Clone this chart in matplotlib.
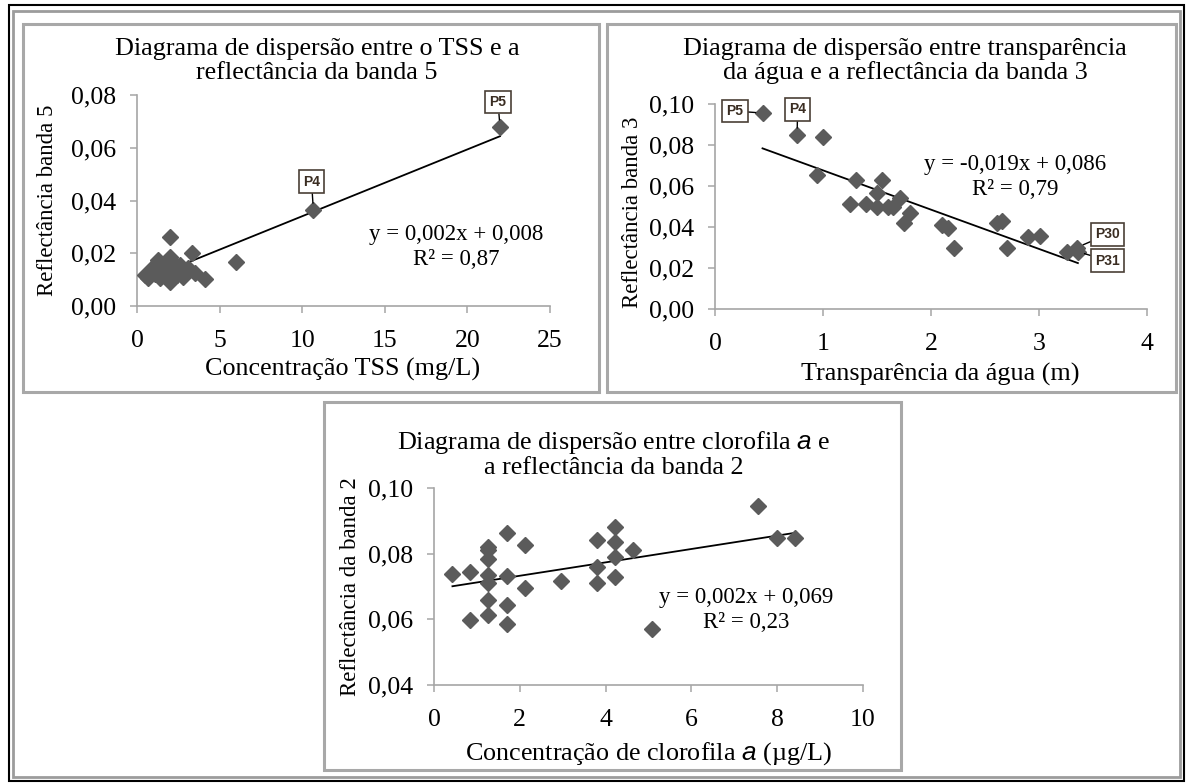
import numpy as np
import matplotlib
matplotlib.use('Agg')
import matplotlib.pyplot as plt
from matplotlib.patches import Rectangle
from matplotlib.ticker import FuncFormatter

plt.rcParams['font.family'] = ['Liberation Serif', 'DejaVu Serif']
plt.rcParams['mathtext.fontset'] = 'custom'
plt.rcParams['mathtext.rm'] = 'Liberation Serif'
plt.rcParams['mathtext.it'] = 'Liberation Sans:italic'

# TSS x reflectancia banda 5
tss = [0.47, 0.67, 0.8, 0.97, 1.1, 1.27, 1.38, 1.45, 1.58, 1.7, 1.98, 1.98, 1.99,
       2.1, 2.2, 2.39, 2.5, 2.6, 2.75, 2.9, 3.1, 3.3, 3.5, 4.1, 5.98, 10.67, 21.98]
b5 = [0.0118, 0.0106, 0.0125, 0.0149, 0.0120, 0.0175, 0.0105, 0.0160, 0.0137, 0.0115,
      0.0187, 0.0092, 0.0261, 0.0140, 0.0165, 0.0118, 0.0130, 0.0156, 0.0110, 0.0130,
      0.0145, 0.0200, 0.0124, 0.0101, 0.0166, 0.0364, 0.0680]
tss_labels = {25: 'P4', 26: 'P5'}

# transparencia x reflectancia banda 3
transp = [0.44, 0.76, 1.0, 0.94, 1.31, 1.25, 1.40, 1.55, 1.50, 1.50, 1.60, 1.65, 1.71,
          1.81, 1.75, 2.10, 2.16, 2.21, 2.61, 2.66, 2.70, 2.90, 3.01, 3.26, 3.35, 3.36]
b3 = [0.0956, 0.0849, 0.0839, 0.0654, 0.063, 0.0512, 0.0512, 0.063, 0.0566, 0.0498,
      0.0498, 0.0498, 0.054, 0.047, 0.042, 0.041, 0.0395, 0.030, 0.042, 0.043, 0.030,
      0.035, 0.0356, 0.0278, 0.030, 0.028]
transp_labels = {0: 'P5', 1: 'P4', 24: 'P30', 25: 'P31'}

# clorofila a x reflectancia banda 2
clor = [0.43, 0.84, 0.84, 1.27, 1.27, 1.27, 1.27, 1.27, 1.27, 1.27, 1.69, 1.69, 1.69,
        1.69, 2.12, 2.12, 2.95, 3.79, 3.79, 3.79, 4.22, 4.22, 4.22, 4.22, 4.65, 5.09,
        7.56, 7.99, 8.42]
b2 = [0.0737, 0.0745, 0.0598, 0.0821, 0.0811, 0.0783, 0.0735, 0.071, 0.0659, 0.0613,
      0.0862, 0.0731, 0.0643, 0.0586, 0.0826, 0.0694, 0.0717, 0.0841, 0.076, 0.071,
      0.0882, 0.0836, 0.0789, 0.0728, 0.0811, 0.057, 0.0946, 0.0847, 0.0847]

W, H = 1187, 783
fig = plt.figure(figsize=(W / 100, H / 100), dpi=100)
fig.patch.set_facecolor('white')


def fx(x):
    return x / W


def fy(y):
    return 1 - y / H


def box(x0, y0, x1, y1, color, lw):
    fig.add_artist(Rectangle((fx(x0), fy(y1)), (x1 - x0) / W, (y1 - y0) / H,
                             transform=fig.transFigure, fill=False, ec=color, lw=lw))


# molduras
box(9, 5, 1184, 781, 'black', 1.5)
box(13, 11, 1180, 777, '#9c9c9c', 2.0)
box(23, 24, 599, 392, '#a8a8a8', 2.2)
box(607, 24, 1176, 392, '#a8a8a8', 2.2)
box(324, 402, 901, 770, '#a8a8a8', 2.2)

comma = FuncFormatter(lambda v, p: f'{v:.2f}'.replace('.', ','))
TICK = 18.5
LAB = 18.8
EQ = 16.5
grey = '#5b5b5b'


def panel(rect, x, y, xlim, ylim, yticks, xticks, labels=None, offsets=None):
    l, t, r, b = rect
    ax = fig.add_axes([fx(l), fy(b), (r - l) / W, (b - t) / H])
    ax.plot(x, y, ls='none', marker='D', ms=7.8, color=grey, zorder=3)
    k, c = np.polyfit(x, y, 1)
    xs = np.array([min(x), max(x)])
    ax.plot(xs, k * xs + c, color='black', lw=1.3, zorder=2)
    ax.set_xlim(*xlim)
    ax.set_ylim(*ylim)
    ax.set_xticks(xticks)
    ax.set_yticks(yticks)
    ax.yaxis.set_major_formatter(comma)
    for s in ['top', 'right']:
        ax.spines[s].set_visible(False)
    for s in ['left', 'bottom']:
        ax.spines[s].set_color('#a6a6a6')
        ax.spines[s].set_linewidth(1.2)
    ax.tick_params(direction='out', length=5, width=1.1, color='#a6a6a6',
                   labelsize=TICK)
    ax.tick_params(axis='x', pad=12)
    ax.tick_params(axis='y', pad=10)
    ax.patch.set_alpha(0)
    if labels:
        for i, name in labels.items():
            ax.annotate(name, xy=(x[i], y[i]), xytext=offsets[name],
                        textcoords='offset points', ha='center', va='center',
                        family='Liberation Sans', fontsize=10, weight='bold',
                        color='#3a2d22',
                        bbox=dict(boxstyle='square,pad=0.3', fc='white',
                                  ec='#4a3f36', lw=1.2),
                        arrowprops=dict(arrowstyle='-', color='black', lw=1,
                                        shrinkA=0, shrinkB=5), zorder=4)
    return ax


panel((137.3, 95.2, 549.8, 306), tss, b5, (0, 25), (0, 0.08),
      [0, 0.02, 0.04, 0.06, 0.08], [0, 5, 10, 15, 20, 25],
      tss_labels, {'P5': (-1.4, 17.8), 'P4': (-1.3, 20.5)})
panel((715, 104, 1147, 309), transp, b3, (0, 4), (0, 0.10),
      [0, 0.02, 0.04, 0.06, 0.08, 0.10], [0, 1, 2, 3, 4],
      transp_labels, {'P5': (-19.8, 1.4), 'P4': (0.4, 18.4),
                      'P30': (22, 9.4), 'P31': (21.2, -6.5)})
panel((434, 488, 863, 685), clor, b2, (0, 10), (0.04, 0.10),
      [0.04, 0.06, 0.08, 0.10], [0, 2, 4, 6, 8, 10])


def txt(x, y, s, size=LAB, **kw):
    fig.text(fx(x), fy(y), s, fontsize=size, ha='center', va='center',
             multialignment='center', **kw)


# titulos
txt(317, 61, 'Diagrama de dispersão entre o TSS e a\nreflectância da banda 5', linespacing=1.1)
txt(905, 61, 'Diagrama de dispersão entre transparência\nda água e a reflectância da banda 3', linespacing=1.1)
txt(614, 454, 'Diagrama de dispersão entre clorofila $a$ e\na reflectância da banda 2', linespacing=1.1)

# eixos
txt(343, 369, 'Concentração TSS (mg/L)')
txt(940, 374, 'Transparência da água (m)')
txt(649, 754, 'Concentração de clorofila $a$ (µg/L)')
txt(48, 200, 'Reflectância banda 5', size=16.5, rotation=90)
txt(632, 212, 'Reflectância banda 3', size=16.5, rotation=90)
txt(350, 587, 'Reflectância da banda 2', size=16.5, rotation=90)

# equacoes das retas
txt(456, 247, 'y = 0,002x + 0,008\nR² = 0,87', size=EQ, linespacing=1.25)
txt(1015, 177, 'y = -0,019x + 0,086\nR² = 0,79', size=EQ, linespacing=1.25)
txt(746, 610, 'y = 0,002x + 0,069\nR² = 0,23', size=EQ, linespacing=1.25)

fig.savefig('out.png', dpi=100)
